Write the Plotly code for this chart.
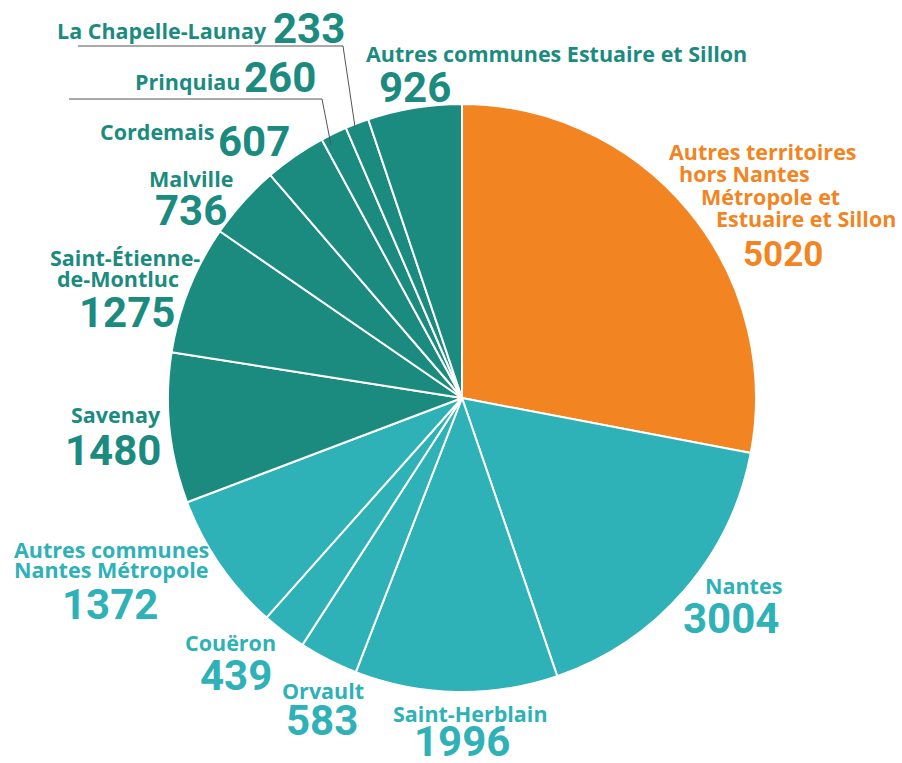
import plotly.graph_objects as go

labels = ["Autres territoires hors Nantes Métropole et Estuaire et Sillon",
          "Nantes", "Saint-Herblain", "Orvault", "Couëron",
          "Autres communes Nantes Métropole",
          "Savenay", "Saint-Étienne-de-Montluc", "Malville", "Cordemais",
          "Prinquiau", "La Chapelle-Launay", "Autres communes Estuaire et Sillon"]
values = [5020, 3004, 1996, 583, 439, 1372, 1480, 1275, 736, 607, 260, 233, 926]
groups = ["hors", "nm", "nm", "nm", "nm", "nm",
          "es", "es", "es", "es", "es", "es", "es"]

group_colors = {"hors": "#F28522", "nm": "#2EB1B7", "es": "#1B8B7F"}

W, H = 902, 763
CX, CY, R = 462, 398, 294
NAME_FONT = "Open Sans"
NUM_FONT = "Roboto"

fig = go.Figure(go.Pie(
    labels=labels, values=values, sort=False, direction="clockwise", rotation=0,
    marker=dict(colors=[group_colors[g] for g in groups], line=dict(color="white", width=2)),
    textinfo="none", hoverinfo="label+value", showlegend=False,
    domain=dict(x=[(CX - R) / W, (CX + R) / W], y=[1 - (CY + R) / H, 1 - (CY - R) / H]),
))

anns = []


def ann(text, x, y, size, color, xanchor="center", family=NAME_FONT):
    anns.append(dict(text=text, x=x / W, y=1 - y / H, xref="paper", yref="paper",
                     xanchor=xanchor, yanchor="middle", showarrow=False, borderpad=0,
                     font=dict(family=family, size=size, color=color, weight="bold")))


NAME = 21.5
NUM = 42

layout_spec = {
    0: ([("Autres territoires", 668, 152, "left"), ("hors Nantes", 678, 174, "left"),
         ("Métropole et", 700, 196, "left"), ("Estuaire et Sillon", 715, 218, "left")],
        (783, 255, "center", 35)),
    1: ([("Nantes", 743, 585, "center")], (731, 618, "center", NUM)),
    2: ([("Saint-Herblain", 470, 713, "center")], (462, 741, "center", NUM)),
    3: ([("Orvault", 323, 690, "center")], (322, 720, "center", NUM)),
    4: ([("Couëron", 230, 642, "center")], (236, 675, "center", NUM)),
    5: ([("Autres communes", 111, 549, "center"), ("Nantes Métropole", 111, 569, "center")],
        (110, 604, "center", NUM)),
    6: ([("Savenay", 116, 414, "center")], (113, 450, "center", NUM)),
    7: ([("Saint-Étienne-", 125, 257, "center"), ("de-Montluc", 118, 278, "center")],
        (127, 313, "center", NUM)),
    8: ([("Malville", 191, 178, "center")], (191, 210, "center", NUM)),
    9: ([("Cordemais", 157, 131, "center")], (254, 141, "center", NUM)),
    10: ([("Prinquiau", 187, 81, "center")], (280, 78, "center", NUM)),
    11: ([("La Chapelle-Launay", 162, 30, "center")], (309, 28, "center", NUM)),
    12: ([("Autres communes Estuaire et Sillon", 556, 53, "center")], (415, 88, "center", NUM)),
}

for i, (lines, num) in layout_spec.items():
    col = group_colors[groups[i]]
    for t, x, y, xa in lines:
        ann(t, x, y, NAME, col, xa)
    nx, ny, nxa, nsize = num
    ann(str(values[i]), nx, ny, nsize, col, nxa, family=NUM_FONT)

shapes = []
for pts in ([(78, 46), (343, 46), (355, 127)], [(69, 99), (322, 99), (331, 145)]):
    path = "M " + " L ".join(f"{x / W} {1 - y / H}" for x, y in pts)
    shapes.append(dict(type="path", path=path, xref="paper", yref="paper",
                       line=dict(color="#555555", width=1)))

fig.update_layout(width=W, height=H, margin=dict(l=0, r=0, t=0, b=0),
                  paper_bgcolor="white", plot_bgcolor="white",
                  annotations=anns, shapes=shapes)

fig.write_html("out.html")
